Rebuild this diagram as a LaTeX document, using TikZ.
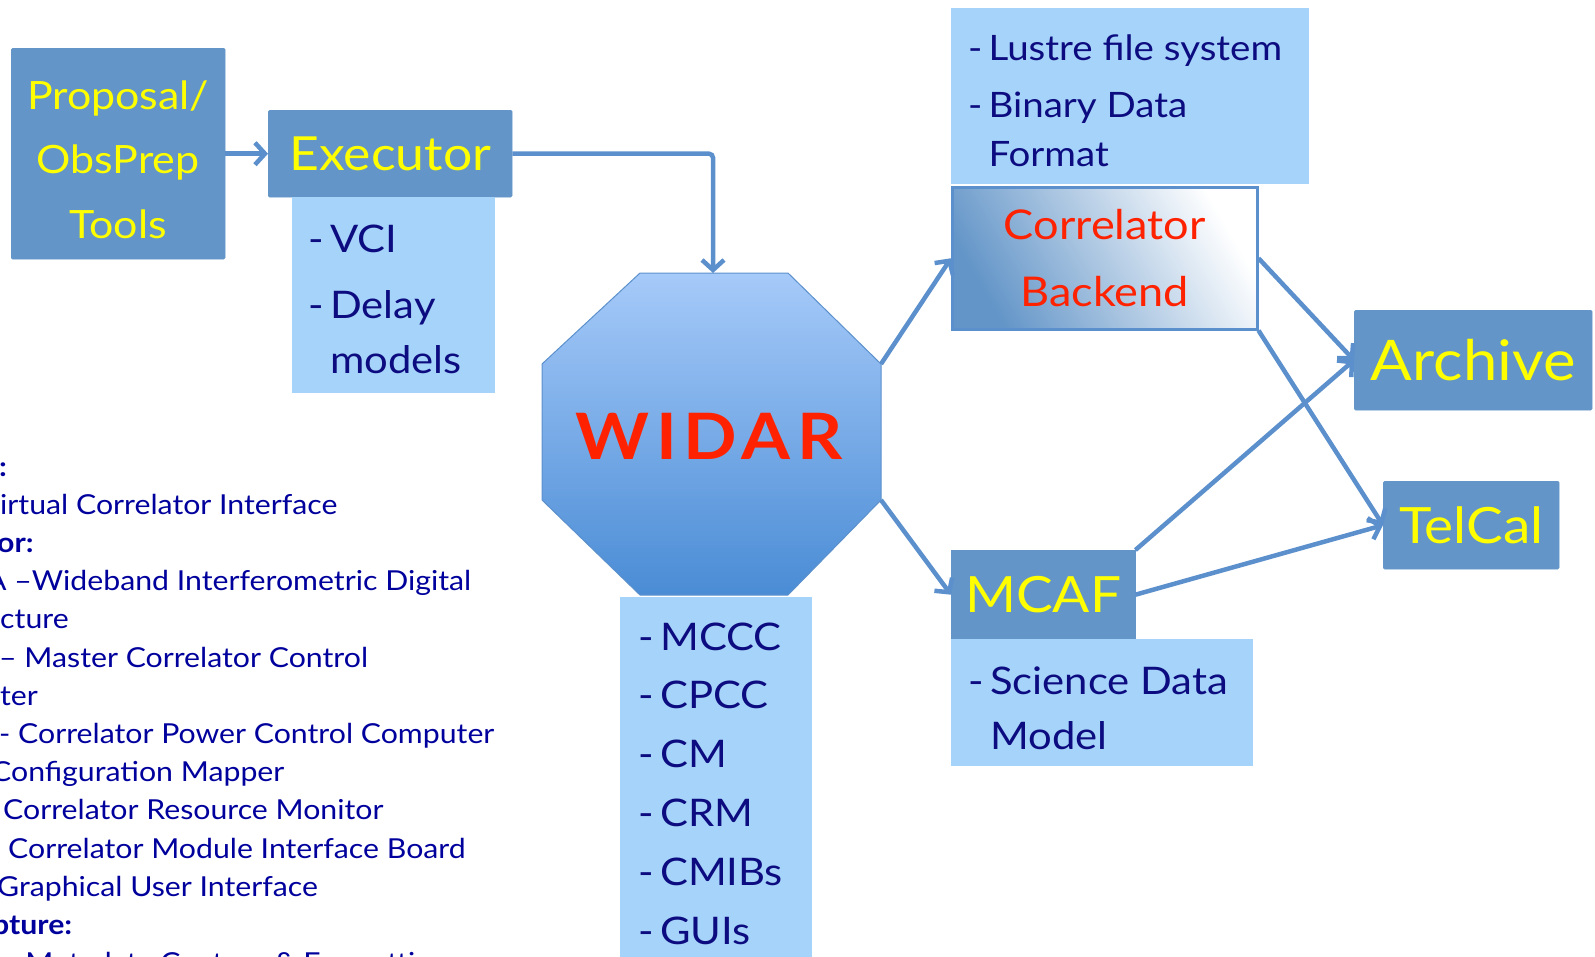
\documentclass[tikz,border=0pt]{standalone}
\usepackage{fontspec}
\setmainfont{Lato}[FakeStretch=1.1]
\usetikzlibrary{arrows.meta}

% dash in front of a list item, and the indent of a continued line
\newcommand{\dashitem}{\makebox[0.58em][l]{-}}
\newcommand{\dashskip}{\hspace*{0.58em}}
\newcommand{\fsize}[1]{\fontsize{#1}{1.2\dimexpr#1pt\relax}\selectfont}

\begin{document}
\begin{tikzpicture}[x=1pt,y=-1pt,
    bluebox/.style={fill=boxBlue, draw=boxBlue, rounded corners=1.5pt, text=boxText, anchor=north west, inner sep=0pt, align=center},
    listbox/.style={fill=listBlue, anchor=north west, inner sep=0pt},
    listtext/.style={text=listText, anchor=base west, inner sep=0pt},
    notetext/.style={text=noteText, anchor=base west, inner sep=0pt, font=\fsize{27.5}},
    link/.style={draw=lineBlue, line width=4.5pt, -{Straight Barb[length=10pt,width=22pt]}}]
    % Define colours
    \definecolor{boxBlue}{HTML}{6395C8}
    \definecolor{listBlue}{HTML}{A6D3F9}
    \definecolor{lineBlue}{HTML}{5B90CC}
    \definecolor{boxText}{HTML}{FFFF00}
    \definecolor{listText}{HTML}{0C0C80}
    \definecolor{noteText}{HTML}{00009C}
    \definecolor{redText}{HTML}{FF2200}
    \definecolor{octTop}{HTML}{A6CAF9}
    \definecolor{octBottom}{HTML}{4A8CD5}

    % Frame of the picture
    \useasboundingbox (0,0) rectangle (1595,956);
    \clip (0,0) rectangle (1595,956);

    % Left hand glossary (cut off by the frame)
    \foreach \x/\t [count=\i] in {-1/\textbf{:}, 0/irtual Correlator Interface, -3/\textbf{or:},
        -14/A --Wideband Interferometric Digital, 0/cture, -1/-- Master Correlator Control, 0/ter,
        -1/- Correlator Power Control Computer, -9/Configuration Mapper, 3/Correlator Resource Monitor,
        8/Correlator Module Interface Board, -3/Graphical User Interface, -8/\textbf{pture:},
        0/-- Metadata Capture \& Formatting}
        \node[notetext] (note\i) at (\x, 476+38.2*\i-38.2) {\t};

    % Proposal tools and executor
    \node[bluebox, minimum width=214pt, minimum height=211pt] (tools) at (11,48) {};
    \node[text=boxText, align=center, font=\fsize{39}] (toolslabel) at ([yshift=-6pt]tools.center)
        {Proposal/\\[18pt] ObsPrep\\[18pt] Tools};
    \node[bluebox, minimum width=244pt, minimum height=87pt, font=\fsize{47}] (executor) at (268,110) {Executor};
    \node[listbox, minimum width=203pt, minimum height=196pt] (execlist) at (292,197) {};
    \node[listtext, font=\fsize{38}] (vci) at (308,252) {\dashitem VCI};
    \node[listtext, font=\fsize{38}] (delay) at (308,318) {\dashitem Delay};
    \node[listtext, font=\fsize{38}] (models) at (308,373) {\dashskip models};

    % WIDAR list, then the octagon on top of it
    \node[listbox, minimum width=192pt, minimum height=370pt] (widarlist) at (620,597) {};
    \foreach \t [count=\i] in {MCCC,CPCC,CM,CRM,CMIBs,GUIs}
        \node[listtext, font=\fsize{38}] (widaritem\i) at (638, 650+58.8*\i-58.8) {\dashitem\t};

    \coordinate (octA) at (640,273);
    \coordinate (octB) at (788,273);
    \coordinate (octC) at (881,364);
    \coordinate (octD) at (881,500);
    \coordinate (octE) at (788,595);
    \coordinate (octF) at (640,595);
    \coordinate (octG) at (542,500);
    \coordinate (octH) at (542,364);
    \shade[top color=octTop, bottom color=octBottom] (octA) -- (octB) -- (octC) -- (octD) -- (octE) -- (octF) -- (octG) -- (octH) -- cycle;
    \draw[lineBlue, line width=1pt] (octA) -- (octB) -- (octC) -- (octD) -- (octE) -- (octF) -- (octG) -- (octH) -- cycle;
    \node[text=redText, font={\fsize{64}\bfseries\addfontfeature{LetterSpace=10}}] (widar) at (709,436) {WIDAR};
    \coordinate (octTopIn) at (713,273);

    % Backend and its storage
    \node[listbox, minimum width=358pt, minimum height=176pt] (lustrebox) at (951,8) {};
    \node[listtext, font=\fsize{35}] (lustre) at (968,60) {\dashitem Lustre file system};
    \node[listtext, font=\fsize{35}] (bdf) at (968,117) {\dashitem Binary Data};
    \node[listtext, font=\fsize{35}] (format) at (968,166) {\dashskip Format};
    \node[anchor=north west, inner sep=0pt, minimum width=305pt, minimum height=142pt, draw=lineBlue, line width=2.5pt,
        top color=white, bottom color=boxBlue, shading angle=-60, text=redText, align=center, font=\fsize{41}]
        (backend) at (951,186) {Correlator\\[18pt] Backend};

    % MCAF
    \node[bluebox, rounded corners=0pt, minimum width=184pt, minimum height=89pt, font=\fsize{50}] (mcaf) at (951,550) {MCAF};
    \node[listbox, minimum width=302pt, minimum height=127pt] (mcaflist) at (951,639) {};
    \node[listtext, font=\fsize{38}] (sdm) at (968,694) {\dashitem Science Data};
    \node[listtext, font=\fsize{38}] (model) at (968,749) {\dashskip Model};

    % Archive and TelCal
    \node[bluebox, minimum width=238pt, minimum height=100pt, font=\fsize{56}] (archive) at (1354,310) {Archive};
    \node[bluebox, minimum width=176pt, minimum height=88pt, font=\fsize{50}] (telcal) at (1383,481) {TelCal};

    % Connectors
    \draw[link] (tools) -- (executor);
    \draw[link, rounded corners=4pt] (executor.east) -| (octTopIn);
    \draw[link] (octC) -- (backend.west);
    \draw[link] (octD) -- (mcaf.west);
    \draw[link] (backend.east) -- (archive.west);
    \draw[link] (backend.south east) -- (telcal.west);
    \draw[link] (mcaf.north east) -- (archive.west);
    \draw[link] (mcaf.east) -- (telcal.west);

\end{tikzpicture}
\end{document}
